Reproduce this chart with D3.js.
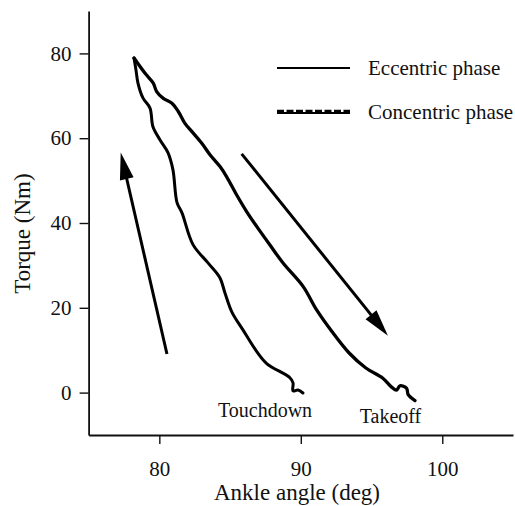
<!DOCTYPE html>
<html>
<head>
<meta charset="utf-8">
<script src="https://cdn.jsdelivr.net/npm/d3@7"></script>
<style>
  html, body { margin: 0; padding: 0; background: #fff; }
  svg { display: block; }
  svg text { font-family: "Liberation Serif", "DejaVu Serif", serif; }
</style>
</head>
<body>
<svg id="chart" width="515" height="506"></svg>
<script>
// Ankle angle (deg) and torque (Nm) during ground contact.
// Eccentric phase: from touchdown up to peak torque.
const eccentricAngle = [90.15, 89.8, 89.45, 89.45, 89.23, 87.61, 86.9, 85.91, 85.13, 84.64,
  84.28, 83.44, 82.38, 81.6, 81.25, 80.96, 80.61, 80.05, 79.55, 79.34, 78.84, 78.49, 78.35, 78.21];
const eccentricTorque = [-0.1, 0.6, 0.4, 2.3, 3.5, 6.8, 9.6, 14.8, 19.0, 23.5,
  27.1, 30.6, 34.9, 42.4, 44.8, 52.6, 56.6, 59.6, 62.7, 67.1, 69.5, 73.0, 76.1, 78.9];

// Concentric phase: from peak torque down to takeoff.
const concentricAngle = [78.21, 78.99, 79.57, 79.81, 80.28, 80.87, 81.34, 81.81, 82.29, 83.0,
  83.58, 84.29, 84.76, 85.47, 86.17, 86.88, 87.82, 88.76, 90.17, 91.12, 92.2, 93.4,
  94.6, 95.8, 96.42, 96.77, 97.01, 97.48, 97.59, 98.07];
const concentricTorque = [78.9, 75.3, 73.0, 71.0, 69.4, 68.3, 66.3, 63.5, 61.6, 58.8,
  56.1, 53.3, 50.9, 46.6, 42.7, 39.2, 34.8, 30.5, 25.0, 19.5, 14.4, 9.4,
  5.8, 3.4, 1.3, 0.6, 1.6, 1.0, -0.5, -1.9];

const xTicks = [80, 90, 100];
const yTicks = [0, 20, 40, 60, 80];
const seriesNames = ["Eccentric phase", "Concentric phase"];

// Direction arrows (angle, torque) and event labels
const arrowFrom = [[80.54, 9.1], [85.82, 56.3]];
const arrowTo = [[77.27, 56.6], [96.16, 13.4]];
const eventNames = ["Touchdown", "Takeoff"];
const eventAngle = [87.47, 96.34];
const eventTorque = [-5.7, -7.1];

const serif = "Liberation Serif, DejaVu Serif, serif";
const svg = d3.select("#chart");

const x = d3.scaleLinear().domain([75, 105]).range([88.6, 513]);
const y = d3.scaleLinear().domain([-10, 90]).range([435, 11]);

// Axes
const yAxis = svg.append("g")
  .attr("transform", `translate(${x(75)},0)`)
  .call(d3.axisLeft(y).tickValues(yTicks).tickSize(9).tickSizeOuter(0).tickPadding(8));
const xAxis = svg.append("g")
  .attr("transform", `translate(0,${y(-10)})`)
  .call(d3.axisBottom(x).tickValues(xTicks).tickSize(9).tickSizeOuter(0).tickPadding(17));

[yAxis, xAxis].forEach(g => {
  g.attr("font-family", serif).attr("font-size", 21);
  g.select(".domain").attr("stroke", "#111").attr("stroke-width", 1.8);
  g.selectAll(".tick line").attr("stroke", "#111").attr("stroke-width", 1.4);
  g.selectAll(".tick text").attr("fill", "#111");
});

// Axis titles
svg.append("text")
  .attr("x", 297).attr("y", 500)
  .attr("text-anchor", "middle")
  .attr("fill", "#111")
  .attr("font-family", serif)
  .attr("font-size", 23)
  .text("Ankle angle (deg)");

svg.append("text")
  .attr("transform", `translate(30,${y(37.5)}) rotate(-90)`)
  .attr("text-anchor", "middle")
  .attr("fill", "#111")
  .attr("font-family", serif)
  .attr("font-size", 23)
  .text("Torque (Nm)");

// Curves
const line = d3.line()
  .x(d => x(d[0]))
  .y(d => y(d[1]))
  .curve(d3.curveCatmullRom.alpha(0.5));
const eccentric = eccentricAngle.map((a, i) => [a, eccentricTorque[i]]);
const concentric = concentricAngle.map((a, i) => [a, concentricTorque[i]]);

svg.append("path")
  .datum(eccentric)
  .attr("d", line)
  .attr("fill", "none")
  .attr("stroke", "#000")
  .attr("stroke-width", 3)
  .attr("stroke-linejoin", "round")
  .attr("stroke-linecap", "round");

svg.append("path")
  .datum(concentric)
  .attr("d", line)
  .attr("fill", "none")
  .attr("stroke", "#000")
  .attr("stroke-width", 3.3)
  .attr("stroke-linejoin", "round")
  .attr("stroke-linecap", "round");

// Arrows
const headLen = 27, headHalf = 7;
arrowFrom.forEach((f, i) => {
  const x0 = x(f[0]), y0 = y(f[1]);
  const x1 = x(arrowTo[i][0]), y1 = y(arrowTo[i][1]);
  const dx = x1 - x0, dy = y1 - y0;
  const len = Math.hypot(dx, dy);
  const ux = dx / len, uy = dy / len;
  const bx = x1 - ux * headLen, by = y1 - uy * headLen;
  svg.append("line")
    .attr("x1", x0).attr("y1", y0)
    .attr("x2", bx + ux * 3).attr("y2", by + uy * 3)
    .attr("stroke", "#000")
    .attr("stroke-width", 3);
  svg.append("path")
    .attr("d", `M${x1},${y1}L${bx - uy * headHalf},${by + ux * headHalf}L${bx + uy * headHalf},${by - ux * headHalf}Z`)
    .attr("fill", "#000");
});

// Event labels
eventNames.forEach((name, i) => {
  svg.append("text")
    .attr("x", x(eventAngle[i]))
    .attr("y", y(eventTorque[i]))
    .attr("text-anchor", "middle")
    .attr("fill", "#111")
    .attr("font-family", serif)
    .attr("font-size", 20)
    .text(name);
});

// Legend
const legend = svg.append("g");
legend.append("line")
  .attr("x1", 277).attr("x2", 350).attr("y1", 68).attr("y2", 68)
  .attr("stroke", "#000").attr("stroke-width", 2);
legend.append("line")
  .attr("x1", 277).attr("x2", 350).attr("y1", 113).attr("y2", 113)
  .attr("stroke", "#000").attr("stroke-width", 2);
legend.append("line")
  .attr("x1", 277).attr("x2", 350).attr("y1", 111).attr("y2", 111)
  .attr("stroke", "#000").attr("stroke-width", 2.5)
  .attr("stroke-dasharray", "7,2.5");
legend.selectAll("text.leg")
  .data(seriesNames)
  .join("text")
  .attr("class", "leg")
  .attr("x", 368)
  .attr("y", (d, i) => 75 + i * 44)
  .attr("fill", "#111")
  .attr("font-family", serif)
  .attr("font-size", 21)
  .text(d => d);
</script>
</body>
</html>
